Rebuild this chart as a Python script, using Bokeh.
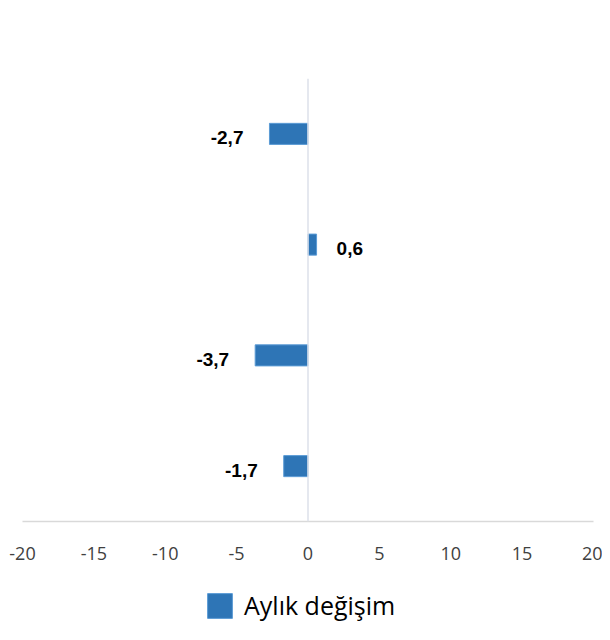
from bokeh.plotting import figure
from bokeh.models import ColumnDataSource, FactorRange, Range1d, LabelSet, Span, Legend, LegendItem, FixedTicker
from bokeh.layouts import column
from bokeh.embed import file_html
from bokeh.resources import INLINE
from bokeh.core.properties import value

categories = ["K1", "K2", "K3", "K4"]          # top to bottom
values = [-2.7, 0.6, -3.7, -1.7]
labels = ["-2,7", "0,6", "-3,7", "-1,7"]
x_ticks = [-20, -15, -10, -5, 0, 5, 10, 15, 20]
series_name = "Aylık değişim"

BAR_FILL = "#2e75b6"
BAR_LINE = "#5b9bd5"

src = ColumnDataSource(dict(
    cat=categories,
    val=values,
    lab=labels,
    off=[-26 if v < 0 else 20 for v in values],
    align=["right" if v < 0 else "left" for v in values],
))

p = figure(width=602, height=581, output_backend="svg", toolbar_location=None,
           y_range=FactorRange(factors=categories[::-1]),
           x_range=Range1d(-20, 20),
           min_border_left=22, min_border_right=9, min_border_top=78, min_border_bottom=60)
p.outline_line_color = None
p.background_fill_color = "white"
p.border_fill_color = "white"
p.xgrid.visible = False
p.ygrid.visible = False
p.yaxis.visible = False

ax = p.xaxis[0]
ax.ticker = FixedTicker(ticks=x_ticks)
ax.major_label_overrides = {t: str(t) for t in x_ticks}
ax.axis_line_color = "#d9d9d9"
ax.axis_line_width = 1.5
ax.major_tick_line_color = None
ax.minor_tick_line_color = None
ax.major_tick_out = 0
ax.major_tick_in = 0
ax.major_label_standoff = 25
ax.major_label_text_font = "Open Sans"
ax.major_label_text_font_size = "18px"
ax.major_label_text_color = "#404040"

p.add_layout(Span(location=0, dimension="height", line_color="#dde1ea", line_width=1.5))

p.hbar(y="cat", right="val", left=0, height=0.19, source=src,
       fill_color=BAR_FILL, line_color=BAR_LINE, line_width=1)

lbl = LabelSet(x="val", y="cat", text="lab", source=src, x_offset="off", y_offset=-4,
               text_align="align", text_baseline="middle",
               text_font=value("Liberation Sans"), text_font_style="bold",
               text_font_size="19px", text_color="black")
p.add_layout(lbl)

# legend strip below the chart
pl = figure(width=602, height=51, output_backend="svg", toolbar_location=None,
            x_axis_type=None, y_axis_type=None, x_range=Range1d(0, 1), y_range=Range1d(0, 1),
            min_border_left=0, min_border_right=0, min_border_top=0, min_border_bottom=0)
pl.outline_line_color = None
pl.xgrid.visible = False
pl.ygrid.visible = False
# legend-only renderer, placed outside the visible range
dummy = pl.hbar(y=[-5], right=[1], left=0, height=0.19,
                fill_color=BAR_FILL, line_color=BAR_LINE, line_width=1)
legend = Legend(items=[LegendItem(label=series_name, renderers=[dummy])],
                location=(182, 10), orientation="horizontal",
                glyph_width=31, glyph_height=31, label_standoff=9,
                label_text_font="Open Sans", label_text_font_size="25px",
                label_text_color="black", padding=0, margin=0,
                border_line_color=None, background_fill_alpha=0)
pl.add_layout(legend)

layout = column(p, pl, spacing=0)
open("out.html", "w").write(file_html(layout, INLINE))
